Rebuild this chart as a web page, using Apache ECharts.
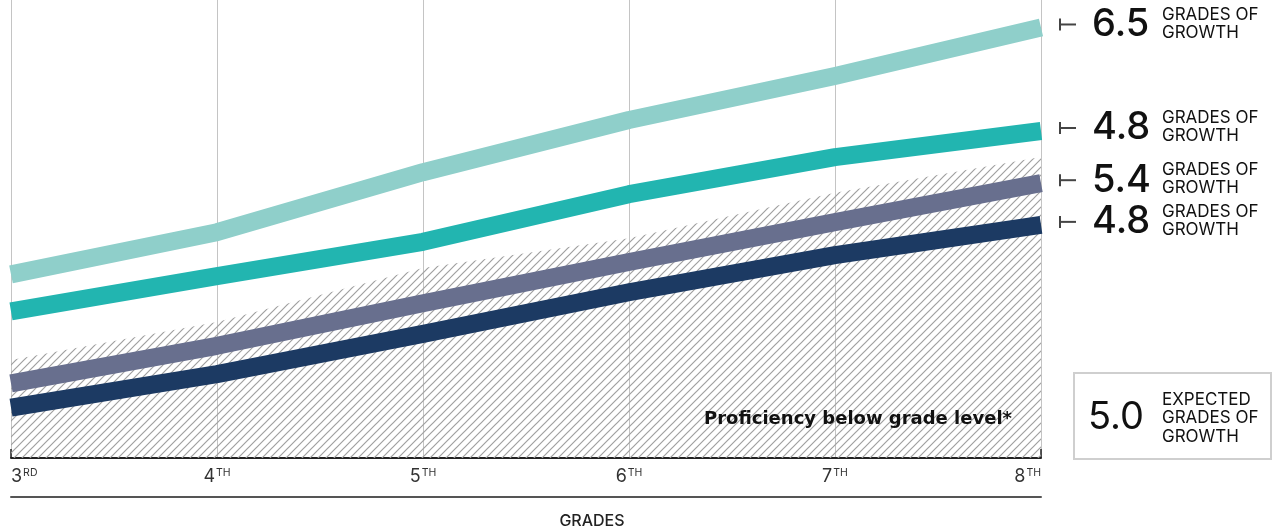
<!DOCTYPE html>
<html>
<head>
<meta charset="utf-8">
<script src="https://cdn.jsdelivr.net/npm/echarts@6/dist/echarts.min.js"></script>
<style>
html,body{margin:0;padding:0;background:#fff;}
#chart{width:1273px;height:531px;}
</style>
</head>
<body>
<div id="chart"></div>
<script>
// ---- data ----
const grades = ['3', '4', '5', '6', '7', '8'];
const gradeSuffix = ['RD', 'TH', 'TH', 'TH', 'TH', 'TH'];
const proficiencyBelow = [21.4, 29.7, 41.5, 48.0, 57.9, 65.7];
const seriesLightTeal = [40.1, 49.3, 62.4, 73.8, 83.4, 94.0];
const seriesTeal = [32.0, 39.7, 47.2, 57.6, 65.7, 71.4];
const seriesSlate = [16.3, 24.5, 33.8, 42.8, 51.5, 60.0];
const seriesNavy = [11.0, 18.3, 27.1, 36.2, 44.3, 50.9];
const growthValues = ['6.5', '4.8', '5.4', '4.8'];
const expectedGrowth = '5.0';
const FONT = 'Inter, "Open Sans", sans-serif';

// hatch pattern
const pat = document.createElement('canvas');
pat.width = 8; pat.height = 8;
const pc = pat.getContext('2d');
pc.strokeStyle = '#a0a0a0';
pc.lineWidth = 1.2;
pc.beginPath();
pc.moveTo(-1, 9); pc.lineTo(9, -1);
pc.moveTo(-1, 1); pc.lineTo(1, -1);
pc.moveTo(7, 9); pc.lineTo(9, 7);
pc.stroke();

const chart = echarts.init(document.getElementById('chart'), null, {renderer: 'canvas'});
const lineSeries = [
  {name: 'Light teal', data: seriesLightTeal, color: '#8fcfca'},
  {name: 'Teal', data: seriesTeal, color: '#22b5b0'},
  {name: 'Slate', data: seriesSlate, color: '#686f8e'},
  {name: 'Navy', data: seriesNavy, color: '#1c3a63'}
];

chart.setOption({
  animation: false,
  grid: {left: 11, right: 232, top: 0, bottom: 73},
  xAxis: [{
    type: 'category',
    data: grades,
    boundaryGap: false,
    axisLine: {show: true, lineStyle: {color: '#222', width: 2}},
    axisTick: {show: true, inside: true, length: 9, lineStyle: {color: '#222', width: 1.5},
      interval: function (i) { return i === 0 || i === grades.length - 1; }},
    splitLine: {show: true, lineStyle: {color: '#c4c4c4', width: 1}},
    axisLabel: {
      margin: 9,
      alignMinLabel: 'left',
      alignMaxLabel: 'right',
      formatter: function (v, i) { return '{n|' + v + '}{s|' + gradeSuffix[i] + '}'; },
      rich: {
        n: {fontSize: 18, color: '#333', fontFamily: FONT, lineHeight: 20},
        s: {fontSize: 10.5, color: '#333', fontFamily: FONT, verticalAlign: 'top', lineHeight: 20, padding: [0, 0, 6, 1]}
      }
    }
  }, {
    type: 'category',
    data: grades,
    boundaryGap: false,
    position: 'bottom',
    offset: 39,
    axisLine: {show: true, lineStyle: {color: '#555', width: 2}},
    axisTick: {show: false},
    axisLabel: {show: false},
    splitLine: {show: false}
  }],
  yAxis: {
    type: 'value', min: 0, max: 100,
    show: false,
    splitLine: {show: false}
  },
  series: [{
    name: 'Proficiency below grade level',
    type: 'line',
    data: proficiencyBelow,
    symbol: 'none',
    lineStyle: {width: 0},
    areaStyle: {color: {image: pat, repeat: 'repeat'}, opacity: 1},
    z: 1
  }].concat(lineSeries.map(function (s, k) {
    return {
      name: s.name, type: 'line', data: s.data, symbol: 'none',
      lineStyle: {color: s.color, width: 18, cap: 'butt', join: 'round'},
      z: 5 + k
    };
  }))
});

// annotations positioned through the chart scales
const graphics = [];
lineSeries.forEach(function (s, k) {
  const y = chart.convertToPixel({xAxisIndex: 0, yAxisIndex: 0}, [grades.length - 1, s.data[s.data.length - 1]])[1] - 3;
  graphics.push({type: 'line', shape: {x1: 1060, y1: y - 6, x2: 1060, y2: y + 6}, style: {stroke: '#444', lineWidth: 2}});
  graphics.push({type: 'line', shape: {x1: 1060, y1: y, x2: 1076, y2: y}, style: {stroke: '#444', lineWidth: 2}});
  graphics.push({type: 'text', x: 1092, y: y, style: {text: growthValues[k], font: '500 38px ' + FONT, fill: '#111', verticalAlign: 'middle'}});
  graphics.push({type: 'text', x: 1162, y: y - 1, style: {text: 'GRADES OF\nGROWTH', font: '17px ' + FONT, fill: '#111', lineHeight: 18, verticalAlign: 'middle'}});
});
graphics.push({type: 'rect', shape: {x: 1074, y: 373, width: 197, height: 86}, style: {fill: '#fff', stroke: '#cfcfcf', lineWidth: 2}});
graphics.push({type: 'text', x: 1088, y: 418, style: {text: expectedGrowth, font: '38px ' + FONT, fill: '#111', verticalAlign: 'middle'}});
graphics.push({type: 'text', x: 1162, y: 418, style: {text: 'EXPECTED\nGRADES OF\nGROWTH', font: '17px ' + FONT, fill: '#111', lineHeight: 18.5, verticalAlign: 'middle'}});
graphics.push({type: 'text', x: 1012, y: 419, style: {text: 'Proficiency below grade level*', font: 'bold 18px "DejaVu Sans", sans-serif', fill: '#111', align: 'right', verticalAlign: 'middle'}, z: 20});
graphics.push({type: 'text', x: 592, y: 521, style: {text: 'GRADES', font: '500 16px ' + FONT, fill: '#222', align: 'center', verticalAlign: 'middle'}});
chart.setOption({graphic: graphics});
</script>
</body>
</html>
